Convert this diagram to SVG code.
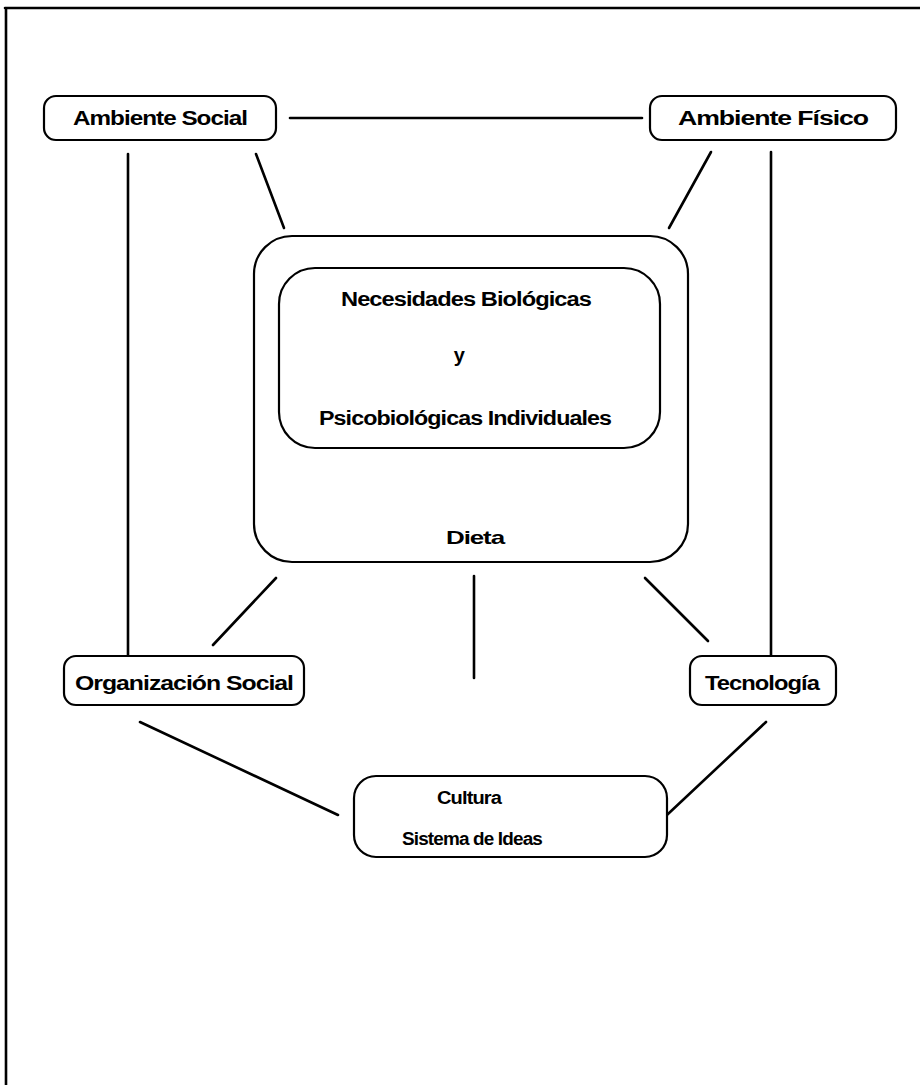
<svg xmlns="http://www.w3.org/2000/svg" width="920" height="1085" viewBox="0 0 920 1085">
<style>
.box{fill:#fff;stroke:#000;stroke-width:2.2}
.ln{stroke:#000;stroke-width:2.6;fill:none;stroke-linecap:round}
.t{font-family:"Liberation Sans",Arial,sans-serif;font-weight:bold;fill:#000;text-anchor:middle;letter-spacing:-0.8px}
</style>
<rect width="920" height="1085" fill="#fff"/>
<g id="frame">
<path class="ln" d="M5 8 H920 M6 8 V1085"/>
</g>
<g id="connectors">
<line class="ln" x1="290" y1="118" x2="642" y2="118"/>
<line class="ln" x1="128" y1="154" x2="128" y2="677"/>
<line class="ln" x1="256" y1="154" x2="284" y2="228"/>
<line class="ln" x1="711" y1="152" x2="669" y2="228"/>
<line class="ln" x1="771" y1="152" x2="771" y2="676"/>
<line class="ln" x1="276" y1="578" x2="213" y2="645"/>
<line class="ln" x1="474" y1="576" x2="474" y2="678"/>
<line class="ln" x1="645" y1="578" x2="708" y2="641"/>
<line class="ln" x1="140" y1="722" x2="338" y2="815"/>
<line class="ln" x1="766" y1="722" x2="652" y2="829"/>
</g>
<g id="ambiente-social">
<rect class="box" x="44" y="96" width="232" height="44" rx="12"/>
<text class="t" x="160" y="125" font-size="20" textLength="174" lengthAdjust="spacingAndGlyphs">Ambiente Social</text>
</g>
<g id="ambiente-fisico">
<rect class="box" x="650" y="96" width="246" height="44" rx="12"/>
<text class="t" x="773" y="125" font-size="20" textLength="190" lengthAdjust="spacingAndGlyphs">Ambiente Físico</text>
</g>
<g id="dieta">
<rect class="box" x="254" y="236" width="434" height="326" rx="38"/>
<text class="t" x="475" y="544" font-size="19" textLength="58" lengthAdjust="spacingAndGlyphs">Dieta</text>
</g>
<g id="necesidades">
<rect class="box" x="279" y="268" width="381" height="180" rx="36"/>
<text class="t" x="466" y="306" font-size="20" textLength="250" lengthAdjust="spacingAndGlyphs">Necesidades Biológicas</text>
<text class="t" x="459" y="362" font-size="20">y</text>
<text class="t" x="465" y="425" font-size="20" textLength="292" lengthAdjust="spacingAndGlyphs">Psicobiológicas Individuales</text>
</g>
<g id="organizacion-social">
<rect class="box" x="64" y="656" width="240" height="49" rx="12"/>
<text class="t" x="184" y="690" font-size="20" textLength="218" lengthAdjust="spacingAndGlyphs">Organización Social</text>
</g>
<g id="tecnologia">
<rect class="box" x="690" y="656" width="146" height="49" rx="12"/>
<text class="t" x="762" y="690" font-size="20" textLength="114" lengthAdjust="spacingAndGlyphs">Tecnología</text>
</g>
<g id="cultura">
<rect class="box" x="354" y="776" width="313" height="81" rx="22"/>
<text class="t" x="469" y="804" font-size="18" textLength="64" lengthAdjust="spacingAndGlyphs">Cultura</text>
<text class="t" x="472" y="845" font-size="18" textLength="140" lengthAdjust="spacingAndGlyphs">Sistema de Ideas</text>
</g>
</svg>
